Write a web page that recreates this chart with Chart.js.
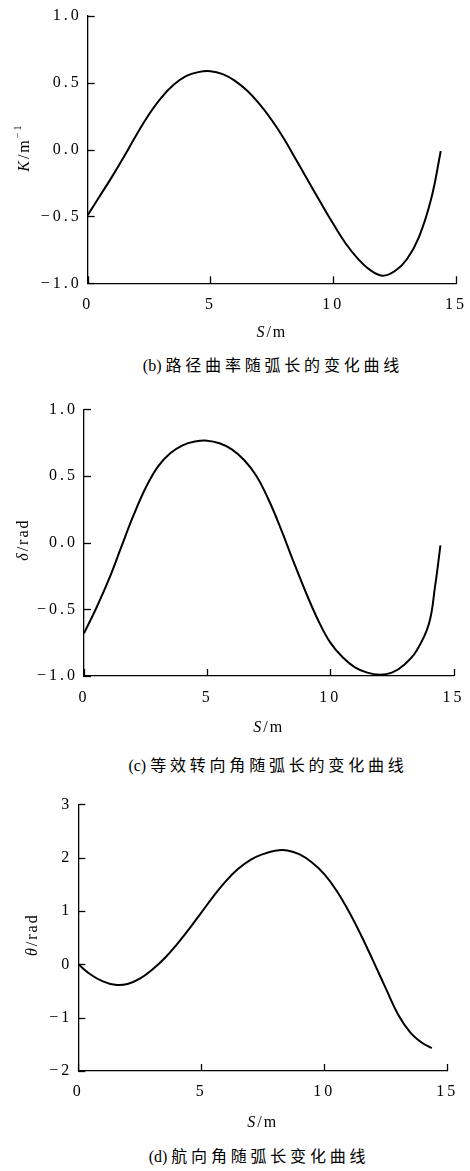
<!DOCTYPE html>
<html>
<head>
<meta charset="utf-8">
<script src="https://cdn.jsdelivr.net/npm/chart.js@4.4.1/dist/chart.umd.min.js"></script>
<style>
  body { margin: 0; background: #fff; width: 470px; height: 1171px; position: relative; overflow: hidden; }
  .box { position: absolute; left: 0; width: 470px; }
  .cap { position: absolute; left: 0; width: 470px; text-align: center; font-family: "Liberation Serif", serif; font-size: 16px; color: #000; line-height: 20px; }
  .cap .zh { font-family: "Noto Sans CJK SC", sans-serif; letter-spacing: 3.8px; }
</style>
</head>
<body>
<div class="box" style="top:0px;height:350px"><canvas id="c1" width="470" height="350"></canvas></div>
<div class="box" style="top:380px;height:360px"><canvas id="c2" width="470" height="360"></canvas></div>
<div class="box" style="top:780px;height:360px"><canvas id="c3" width="470" height="360"></canvas></div>
<div class="cap" style="top:354px;padding-left:38px">(b) <span class="zh">路径曲率随弧长的变化曲线</span></div>
<div class="cap" style="top:754px;padding-left:33px">(c) <span class="zh">等效转向角随弧长的变化曲线</span></div>
<div class="cap" style="top:1145px;padding-left:24px">(d) <span class="zh">航向角随弧长变化曲线</span></div>
<script>
// (b) path curvature K vs arc length S
const sK = [0, 0.5, 1, 1.5, 2, 2.5, 3, 3.5, 4, 4.5, 5, 5.5, 6, 6.5, 7, 7.5, 8, 8.5, 9, 9.5, 10, 10.5, 11, 11.5, 12, 12.5, 13, 13.5, 14, 14.38];
const kVals = [-0.49, -0.345, -0.2, -0.045, 0.115, 0.265, 0.39, 0.485, 0.55, 0.58, 0.587, 0.565, 0.515, 0.44, 0.34, 0.22, 0.08, -0.08, -0.24, -0.4, -0.555, -0.7, -0.815, -0.9, -0.943, -0.91, -0.82, -0.65, -0.36, -0.01];

// (c) equivalent steering angle delta vs S
const sDelta = [0, 0.5, 1, 1.5, 2, 2.5, 3, 3.5, 4, 4.5, 5, 5.5, 6, 6.5, 7, 7.5, 8, 8.5, 9, 9.5, 10, 10.5, 11, 11.5, 12, 12.5, 13, 13.5, 14, 14.25, 14.47];
const deltaVals = [-0.68, -0.49, -0.28, -0.04, 0.2, 0.41, 0.57, 0.67, 0.73, 0.758, 0.765, 0.745, 0.7, 0.62, 0.5, 0.32, 0.1, -0.14, -0.37, -0.58, -0.75, -0.86, -0.935, -0.975, -0.99, -0.975, -0.915, -0.81, -0.61, -0.33, -0.02];

// (d) heading angle theta vs S
const sTheta = [0, 0.5, 1, 1.5, 2, 2.5, 3, 3.5, 4, 4.5, 5, 5.5, 6, 6.5, 7, 7.5, 8, 8.5, 9, 9.5, 10, 10.5, 11, 11.5, 12, 12.5, 13, 13.5, 14, 14.37];
const thetaVals = [0, -0.19, -0.32, -0.385, -0.37, -0.27, -0.1, 0.11, 0.37, 0.66, 0.97, 1.28, 1.56, 1.79, 1.96, 2.065, 2.13, 2.135, 2.06, 1.91, 1.69, 1.38, 0.99, 0.54, 0.05, -0.45, -0.94, -1.28, -1.48, -1.57];

const xTicks = [0, 5, 10, 15];

const SERIF = '"Liberation Serif", "Times New Roman", serif';

function fmt(v, d) {
  return (v < 0 ? '\u2212' : '') + Math.abs(v).toFixed(d);
}

// inward tick marks + mixed italic axis titles
const axisDeco = {
  id: 'axisDeco',
  beforeDraw(chart) {
    chart.ctx.letterSpacing = '3px';
  },
  afterDraw(chart, args, opts) {
    const { ctx, chartArea } = chart;
    const { x, y } = chart.scales;
    ctx.save();
    ctx.strokeStyle = '#000';
    ctx.lineWidth = 1.3;
    x.ticks.forEach(t => {
      const px = Math.round(x.getPixelForValue(t.value)) + 0.5;
      ctx.beginPath();
      ctx.moveTo(px, chartArea.bottom);
      ctx.lineTo(px, chartArea.bottom - 7);
      ctx.stroke();
    });
    y.ticks.forEach(t => {
      const py = Math.round(y.getPixelForValue(t.value)) + 0.5;
      ctx.beginPath();
      ctx.moveTo(chartArea.left, py);
      ctx.lineTo(chartArea.left + 7, py);
      ctx.stroke();
    });

    ctx.fillStyle = '#000';
    ctx.textBaseline = 'middle';
    ctx.textAlign = 'left';
    ctx.letterSpacing = '2px';
    const drawPieces = (pieces) => {
      let w = 0;
      pieces.forEach(p => {
        ctx.font = (p[1] === 'italic' ? 'italic ' : '') + (p[1] === 'sup' ? '10px ' : '16px ') + SERIF;
        p.w = ctx.measureText(p[0]).width;
        w += p.w;
      });
      let cx = -w / 2;
      pieces.forEach(p => {
        ctx.font = (p[1] === 'italic' ? 'italic ' : '') + (p[1] === 'sup' ? '10px ' : '16px ') + SERIF;
        ctx.fillText(p[0], cx, p[1] === 'sup' ? -7 : 0);
        cx += p.w;
      });
    };
    // x title
    ctx.save();
    ctx.translate((chartArea.left + chartArea.right) / 2, chartArea.bottom + opts.xTitleOffset);
    drawPieces(opts.xTitle);
    ctx.restore();
    // y title
    ctx.save();
    ctx.translate(opts.yTitleX, (chartArea.top + chartArea.bottom) / 2 + opts.yTitleShift);
    ctx.rotate(-Math.PI / 2);
    drawPieces(opts.yTitle);
    ctx.restore();
    ctx.restore();
  }
};

function makeChart(id, sArr, vArr, c) {
  const xAxisH = 30;
  return new Chart(document.getElementById(id), {
    type: 'line',
    data: {
      datasets: [{
        data: sArr.map((s, i) => ({ x: s, y: vArr[i] })),
        borderColor: '#000',
        borderWidth: 2,
        pointRadius: 0,
        tension: 0.4,
        fill: false
      }]
    },
    options: {
      responsive: false,
      animation: false,
      layout: {
        padding: { left: 0, top: c.top, right: 470 - c.right, bottom: c.h - c.bottom - xAxisH }
      },
      plugins: {
        legend: { display: false },
        tooltip: { enabled: false },
        axisDeco: { xTitle: [['S', 'italic'], ['/m', '']], yTitle: c.yTitle, xTitleOffset: c.xTitleOffset, yTitleX: c.yTitleX, yTitleShift: c.yTitleShift }
      },
      scales: {
        x: {
          type: 'linear',
          min: 0, max: 15,
          afterBuildTicks: sc => { sc.ticks = xTicks.map(v => ({ value: v })); },
          afterFit: sc => { sc.height = xAxisH; },
          grid: { display: false },
          border: { display: true, color: '#000', width: 1.3 },
          ticks: { color: '#000', padding: c.xPad, maxRotation: 0, font: { family: SERIF, size: 16 }, callback: v => String(v) }
        },
        y: {
          type: 'linear',
          min: c.yMin, max: c.yMax,
          afterBuildTicks: sc => { sc.ticks = c.yTicks.map(v => ({ value: v })); },
          afterFit: sc => { sc.width = c.left; },
          grid: { display: false },
          border: { display: true, color: '#000', width: 1.3 },
          ticks: { color: '#000', padding: -2, font: { family: SERIF, size: 16 }, callback: v => fmt(v, c.dec) }
        }
      }
    },
    plugins: [axisDeco]
  });
}

makeChart('c1', sK, kVals, {
  h: 350, left: 87.7, right: 456, top: 16, bottom: 283.3, xPad: 4,
  yMin: -1, yMax: 1, yTicks: [-1, -0.5, 0, 0.5, 1], dec: 1,
  yTitle: [['K', 'italic'], ['/m', ''], ['\u22121', 'sup']], xTitleOffset: 49, yTitleX: 25, yTitleShift: -2
});
makeChart('c2', sDelta, deltaVals, {
  h: 360, left: 84, right: 453.5, top: 29.3, bottom: 296, xPad: 4,
  yMin: -1, yMax: 1, yTicks: [-1, -0.5, 0, 0.5, 1], dec: 1,
  yTitle: [['\u03b4', 'italic'], ['/rad', '']], xTitleOffset: 52, yTitleX: 24, yTitleShift: -3
});
makeChart('c3', sTheta, thetaVals, {
  h: 360, left: 78.3, right: 447.3, top: 24.3, bottom: 291, xPad: 3,
  yMin: -2, yMax: 3, yTicks: [-2, -1, 0, 1, 2, 3], dec: 0,
  yTitle: [['\u03b8', 'italic'], ['/rad', '']], xTitleOffset: 52, yTitleX: 33, yTitleShift: -3
});
</script>
</body>
</html>
